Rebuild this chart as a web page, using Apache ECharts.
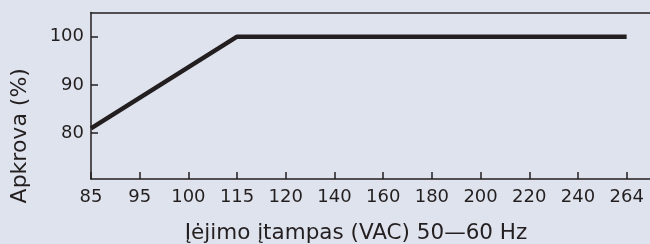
<!DOCTYPE html>
<html>
<head>
<meta charset="utf-8">
<script src="https://cdn.jsdelivr.net/npm/echarts@6/dist/echarts.min.js"></script>
<style>
  html, body { margin: 0; padding: 0; background: #dfe3ed; }
  #main { width: 650px; height: 244px; }
</style>
</head>
<body>
<div id="main"></div>
<script>
// Input voltage categories (VAC)
let voltages = ['85', '95', '100', '115', '120', '140', '160', '180', '200', '220', '240', '264'];
// Load values (%), nulls are bridged by the straight segment
let loadValues = [81, null, null, 100, 100, 100, 100, 100, 100, 100, 100, 100];
// Y tick labels
let loadTicks = [80, 90, 100];

let ink = '#231f20';
let font = 'DejaVu Sans';

// Categories are placed by index on a value axis so the frame can run past the last one
let voltageSlots = voltages.map((v, i) => i);
let seriesData = voltages.map((v, i) => [i, loadValues[i]]);

let myChart = echarts.init(document.getElementById('main'));

let option = {
    backgroundColor: '#dfe3ed',
    animation: false,
    grid: {
        left: 91,
        right: -1,
        top: 12.5,
        bottom: 65,
        outerBoundsMode: 'none'
    },
    xAxis: [
        {
            type: 'value',
            min: 0,
            max: 11.5,
            splitLine: { show: false },
            axisLine: {
                lineStyle: { color: ink, width: 1.5 }
            },
            axisTick: {
                inside: true,
                length: 7,
                customValues: voltageSlots,
                lineStyle: { color: ink, width: 1.5 }
            },
            axisLabel: {
                color: ink,
                fontFamily: font,
                fontSize: 18,
                margin: 9,
                customValues: voltageSlots,
                formatter: (v) => voltages[v]
            },
            name: 'Įėjimo įtampas (VAC) 50—60 Hz',
            nameLocation: 'middle',
            nameGap: 43,
            nameTextStyle: {
                color: ink,
                fontFamily: font,
                fontSize: 21.5,
                padding: [0, 30, 0, 0]
            }
        },
        {
            // top frame line
            type: 'value',
            position: 'top',
            min: 0,
            max: 11.5,
            splitLine: { show: false },
            axisLine: {
                lineStyle: { color: ink, width: 1.5 }
            },
            axisTick: { show: false },
            axisLabel: { show: false }
        }
    ],
    yAxis: {
        type: 'value',
        min: 70.5,
        max: 105,
        splitLine: { show: false },
        axisLine: {
            show: true,
            lineStyle: { color: ink, width: 1.5 }
        },
        axisTick: {
            show: true,
            inside: true,
            length: 7,
            customValues: loadTicks,
            lineStyle: { color: ink, width: 1.5 }
        },
        axisLabel: {
            color: ink,
            fontFamily: font,
            fontSize: 18,
            margin: 7,
            customValues: loadTicks
        },
        name: 'Apkrova (%)',
        nameLocation: 'middle',
        nameGap: 60,
        nameTextStyle: {
            color: ink,
            fontFamily: font,
            fontSize: 22,
            padding: [0, 80, 0, 0]
        }
    },
    series: [
        {
            type: 'line',
            xAxisIndex: 0,
            data: seriesData,
            connectNulls: true,
            symbol: 'none',
            lineStyle: { color: ink, width: 4.5, cap: 'butt' }
        }
    ]
};

option && myChart.setOption(option);
</script>
</body>
</html>
